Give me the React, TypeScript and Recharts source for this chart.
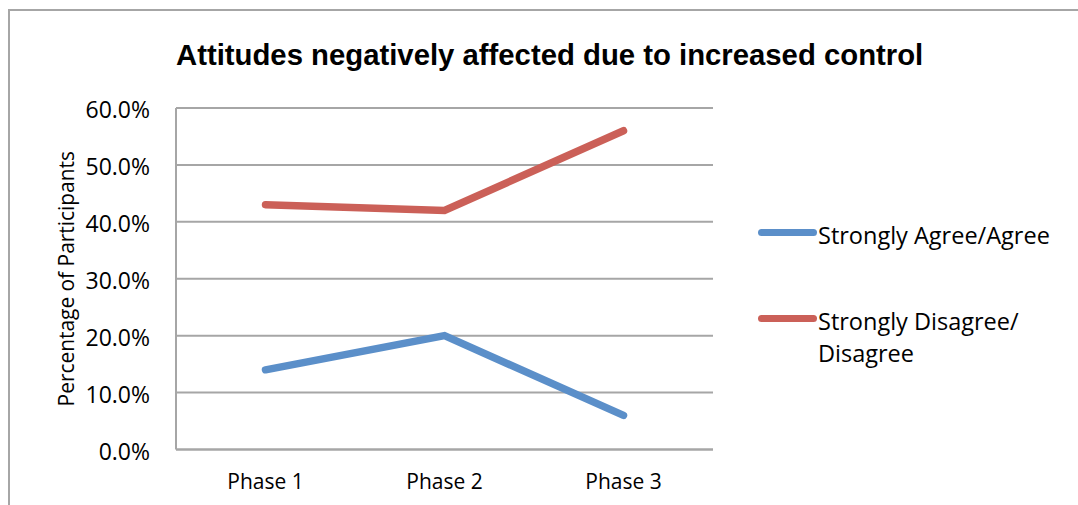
import { LineChart, Line, XAxis, YAxis, CartesianGrid } from "recharts"

// phases along the x axis
const categories = ["Phase 1", "Phase 2", "Phase 3"]

// % of participants per phase
const agreeValues = [14, 20, 6]
const disagreeValues = [43, 42, 56]

const yTicks = [0, 10, 20, 30, 40, 50, 60]

const series = [
  { key: "agree", name: "Strongly Agree/Agree", color: "#5B8FC9", values: agreeValues },
  { key: "disagree", name: "Strongly Disagree/ Disagree", color: "#CB6058", values: disagreeValues },
]

const data = categories.map((phase, i) => {
  const row: Record<string, string | number> = { phase }
  series.forEach(s => { row[s.key] = s.values[i] })
  return row
})

const W = 1078
const H = 505
const FONT = "'Open Sans', sans-serif"
const GRID = "#A6A6A6"

function ChartLegend() {
  return (
    <div style={{ position: "absolute", left: 758, top: 220, display: "flex", flexDirection: "column" }}>
      {series.map(s => (
        <div key={s.key} style={{ display: "flex", alignItems: "flex-start", height: 86 }}>
          <span
            style={{
              display: "inline-block",
              width: 59,
              height: 7,
              marginTop: 9.3,
              borderRadius: 4,
              background: s.color,
              flexShrink: 0,
            }}
          />
          <span style={{ fontSize: 23.5, lineHeight: "31.6px", color: "#000", width: 250, marginLeft: 1 }}>{s.name}</span>
        </div>
      ))}
    </div>
  )
}

export default function App() {
  return (
    <div style={{ position: "absolute", left: 0, top: 0, width: W, height: H, overflow: "hidden", background: "#fff", fontFamily: FONT }}>
      {/* chart frame: only top and left edges fall inside the page */}
      <div style={{ position: "absolute", left: 8, top: 9, width: W, height: H + 40, borderTop: `2px solid ${GRID}`, borderLeft: `2px solid ${GRID}` }} />

      <div
        style={{
          position: "absolute",
          left: 176,
          top: 40,
          fontFamily: "'Liberation Sans', Arial, sans-serif",
          fontWeight: 700,
          fontSize: 29.3,
          lineHeight: "29px",
          whiteSpace: "nowrap",
          color: "#000",
        }}
      >
        Attitudes negatively affected due to increased control
      </div>

      <div style={{ position: "absolute", left: 0, top: 0 }}>
        <LineChart width={W} height={H} data={data} margin={{ top: 108, right: 365, bottom: 15.5, left: 0 }}>
          <CartesianGrid vertical={false} stroke={GRID} strokeWidth={2} />
          <XAxis
            dataKey="phase"
            height={40}
            padding={{ left: 89.5, right: 89.5 }}
            axisLine={{ stroke: GRID, strokeWidth: 2 }}
            tickLine={false}
            tickSize={0}
            tickMargin={25}
            tick={{ fill: "#000", fontSize: 21 }}
          />
          <YAxis
            width={176}
            domain={[0, 60]}
            ticks={yTicks}
            tickFormatter={(v: number) => `${v.toFixed(1)}%`}
            axisLine={{ stroke: GRID, strokeWidth: 2 }}
            tickLine={false}
            tickSize={0}
            tickMargin={26}
            tick={{ fill: "#000", fontSize: 23, dy: 2 }}
            label={{
              value: "Percentage of Participants",
              angle: -90,
              position: "insideLeft",
              offset: 67,
              fill: "#000",
              fontSize: 20.9,
              style: { textAnchor: "middle" },
            }}
          />
          {series.map(s => (
            <Line
              key={s.key}
              type="linear"
              dataKey={s.key}
              name={s.name}
              stroke={s.color}
              strokeWidth={7.5}
              strokeLinecap="round"
              dot={false}
              activeDot={false}
              isAnimationActive={false}
            />
          ))}
        </LineChart>
      </div>

      <ChartLegend />
    </div>
  )
}
